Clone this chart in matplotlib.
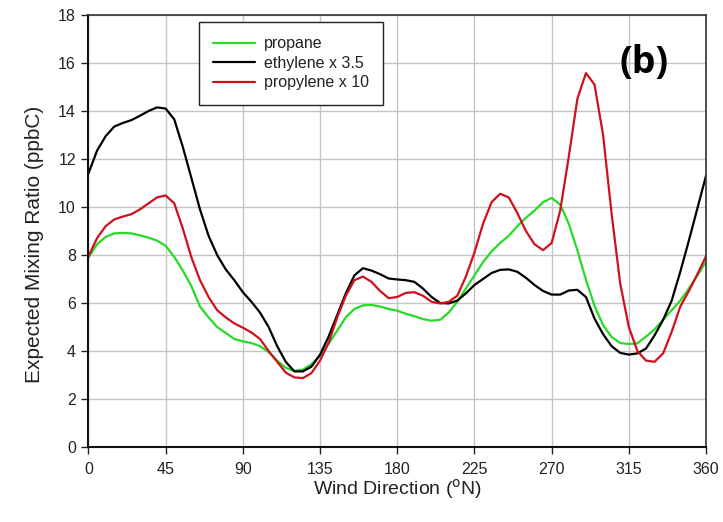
import matplotlib
matplotlib.use("Agg")
import matplotlib.pyplot as plt
import numpy as np

# Wind direction sectors (degrees from north)
wind_dir = list(range(0, 365, 5))

propane = [7.9, 8.45, 8.75, 8.9, 8.92, 8.9, 8.82, 8.72, 8.6, 8.38,
           7.92, 7.35, 6.7, 5.85, 5.4, 5.0, 4.75, 4.5, 4.4, 4.33,
           4.2, 3.95, 3.6, 3.3, 3.17, 3.22, 3.45, 3.8, 4.3, 4.85,
           5.4, 5.75, 5.9, 5.92, 5.85, 5.75, 5.68, 5.55, 5.45, 5.33,
           5.26, 5.3, 5.6, 6.05, 6.6, 7.15, 7.7, 8.15, 8.5, 8.8,
           9.2, 9.55, 9.85, 10.2, 10.38, 10.1, 9.3, 8.2, 6.97, 5.88,
           5.08, 4.58, 4.33, 4.29, 4.32, 4.6, 4.9, 5.3, 5.7, 6.1,
           6.6, 7.15, 7.72]

ethylene_x3_5 = [11.4, 12.35, 12.95, 13.35, 13.5, 13.62, 13.8, 14.0, 14.15, 14.1,
                 13.65, 12.5, 11.2, 9.9, 8.8, 8.0, 7.4, 6.95, 6.45, 6.05,
                 5.6, 5.0, 4.2, 3.55, 3.15, 3.15, 3.35, 3.85, 4.6, 5.5,
                 6.4, 7.15, 7.45, 7.35, 7.2, 7.02, 6.98, 6.95, 6.88, 6.6,
                 6.25, 6.0, 5.98, 6.1, 6.4, 6.75, 7.0, 7.25, 7.38, 7.4,
                 7.3, 7.05, 6.75, 6.5, 6.35, 6.35, 6.52, 6.55, 6.25, 5.35,
                 4.7, 4.2, 3.92, 3.85, 3.9, 4.1, 4.65, 5.3, 6.1, 7.3,
                 8.6, 9.95, 11.3]

propylene_x10 = [7.95, 8.7, 9.2, 9.48, 9.6, 9.7, 9.9, 10.15, 10.4, 10.48,
                 10.15, 9.1, 7.9, 6.95, 6.25, 5.7, 5.4, 5.15, 4.97, 4.77,
                 4.5, 4.0, 3.55, 3.1, 2.9, 2.87, 3.08, 3.6, 4.35, 5.4,
                 6.3, 6.95, 7.1, 6.88, 6.5, 6.2, 6.25, 6.42, 6.45, 6.3,
                 6.05, 5.98, 6.05, 6.3, 7.1, 8.1, 9.3, 10.2, 10.55, 10.4,
                 9.75, 9.0, 8.45, 8.2, 8.5, 9.85, 12.1, 14.5, 15.58, 15.1,
                 13.0, 9.7, 6.8, 5.0, 4.0, 3.6, 3.55, 3.9, 4.8, 5.85,
                 6.5, 7.2, 7.95]

series_labels = ["propane", "ethylene x 3.5", "propylene x 10"]
series_colors = ["#26db26", "#000000", "#d0101e"]

x_ticks = list(range(0, 361, 45))
y_ticks = list(range(0, 19, 2))

regular = ["Liberation Sans", "DejaVu Sans"]

fig = plt.figure(figsize=(7.23, 5.22), dpi=100)
ax = fig.add_axes([0.1224, 0.1437, 0.8541, 0.8276])

for vals, lab, col in zip([propane, ethylene_x3_5, propylene_x10],
                          series_labels, series_colors):
    ax.plot(wind_dir, vals, color=col, lw=1.6, label=lab,
            solid_joinstyle="round", solid_capstyle="round")

ax.set_xlim(0, 360)
ax.set_ylim(0, 18)
ax.set_xticks(x_ticks)
ax.set_yticks(y_ticks)
ax.grid(True, color="#c4c4c4", lw=1.0)
ax.set_axisbelow(True)

for lab in ax.get_xticklabels() + ax.get_yticklabels():
    lab.set_family(regular)
    lab.set_fontsize(11.5)
    lab.set_color("#222222")
ax.tick_params(axis="both", direction="out", length=5, width=1.0, colors="#222222")
ax.tick_params(axis="x", pad=6)
ax.tick_params(axis="y", pad=4)

for side in ["left", "bottom"]:
    ax.spines[side].set_linewidth(1.5)
    ax.spines[side].set_color("#111111")
for side in ["top", "right"]:
    ax.spines[side].set_linewidth(1.2)
    ax.spines[side].set_color("#333333")

ax.set_xlabel("Wind Direction ($^{\\mathrm{o}}$N)", family=regular, fontsize=14,
              color="#222222", labelpad=0)
ax.set_ylabel("Expected Mixing Ratio (ppbC)", family=regular, fontsize=15,
              color="#222222")
ax.yaxis.set_label_coords(-0.072, 0.47)

leg = ax.legend(loc="upper left", bbox_to_anchor=(0.179, 0.984), frameon=True,
                fancybox=False, edgecolor="#222222", framealpha=1,
                prop={"family": regular, "size": 11.5}, handlelength=2.6,
                borderpad=0.9, labelspacing=0.28, handletextpad=0.55,
                borderaxespad=0.0)
leg.get_frame().set_linewidth(1.0)
leg.get_frame().set_boxstyle("square", pad=0.0)
for t in leg.get_texts():
    t.set_color("#222222")

ax.text(0.9, 0.888, "(b)", transform=ax.transAxes, ha="center", va="center",
        fontsize=27, fontweight="bold", family=["Open Sans", "DejaVu Sans"])

fig.savefig("out.png", dpi=100)
